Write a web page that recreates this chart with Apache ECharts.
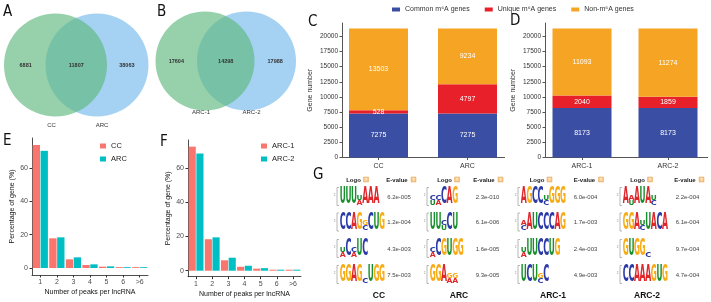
<!DOCTYPE html>
<html>
<head>
<meta charset="utf-8">
<script src="https://cdn.jsdelivr.net/npm/echarts@6/dist/echarts.min.js"></script>
<style>
  html, body { margin: 0; padding: 0; background: #fff; }
  #chart { width: 711px; height: 302px; }
</style>
</head>
<body>
<div id="chart"></div>
<script>
// ---- A / B : venn counts ----
const vennA = [6881, 11807, 38063];
const vennANames = ['CC', 'ARC'];
const vennB = [17604, 14298, 17988];
const vennBNames = ['ARC-1', 'ARC-2'];

// ---- C / D : stacked gene counts ----
const stackNames = ['Common m⁶A genes', 'Unique m⁶A genes', 'Non-m⁶A genes'];
const catC = ['CC', 'ARC'];
const commonC = [7275, 7275];
const uniqueC = [528, 4797];
const nonC = [13503, 9234];
const catD = ['ARC-1', 'ARC-2'];
const commonD = [8173, 8173];
const uniqueD = [2040, 1859];
const nonD = [11093, 11274];
const geneTicks = [0, 2500, 5000, 7500, 10000, 12500, 15000, 17500, 20000];

// ---- E / F : peaks per lncRNA (%) ----
const peakCats = ['1', '2', '3', '4', '5', '6', '>6'];
const pctCC = [73.8, 17.8, 5.2, 1.8, 0.8, 0.5, 0.5];
const pctARC = [70.3, 18.4, 6.4, 2.2, 1.0, 0.5, 0.5];
const pctARC1 = [72.5, 18.4, 6.1, 2.3, 1.2, 0.6, 0.6];
const pctARC2 = [68.5, 19.5, 7.6, 2.9, 1.5, 0.6, 0.6];
const pctTicks = [0, 20, 40, 60];

// ---- G : motifs ([..] = low-information column, letters stacked top->bottom) ----
const motifGroups = ['CC', 'ARC', 'ARC-1', 'ARC-2'];
const motifs = [
  ['UUU[UA]AAA', 'CCAG[GC]CUG', '[UA]C[CA]UC', 'GGAG[C]UGG'],
  ['[CU][CA]CAG', 'UU[CU]CU', '[CA]CGUGG', 'GGA[GA][GA]'],
  ['AGCC[UC]GGG', '[AC]AUCCCAG', '[UA]UUCCUG', 'UCU[GC]C'],
  ['A[AU]AUA[UC]', 'GGA[UC]UACA', 'GUGG[C]', 'CCAAAGUG']
];
const evalues = [
  ['6.2e-005', '1.2e-004', '4.3e-003', '7.5e-003'],
  ['2.3e-010', '6.1e-006', '1.6e-005', '9.3e-005'],
  ['6.0e-004', '1.7e-003', '2.4e-003', '4.9e-003'],
  ['2.2e-004', '6.1e-004', '9.7e-004', '4.7e-004']
];

const FONT = "'Liberation Sans', Arial, sans-serif";
const PANEL_FONT = "'Liberation Sans Narrow', 'DejaVu Sans Condensed', sans-serif";
const BLUE = '#3a4ea4', RED = '#e8202a', ORANGE = '#f5a423';
const SALMON = '#f8766d', TEAL = '#00bfc4';

const graphics = [];
function txt(x, y, s, opt) {
  graphics.push({
    type: 'text', x: x, y: y, silent: true,
    style: Object.assign({
      text: s, fill: '#333', fontSize: 7, fontFamily: FONT,
      textAlign: 'center', textVerticalAlign: 'middle'
    }, opt || {})
  });
}

// panel letters
[['A', 3, 5], ['B', 157, 4.5], ['C', 308, 15], ['D', 510, 14],
 ['E', 3, 134], ['F', 160, 135], ['G', 313, 168]].forEach(p => {
  txt(p[1], p[2], p[0], { fontSize: 15, fontFamily: PANEL_FONT, fill: '#111',
    textAlign: 'left', textVerticalAlign: 'top' });
});

// venn diagrams
function venn(cx1, cx2, cy, r, counts, names, nameY) {
  graphics.push({ type: 'circle', silent: true, shape: { cx: cx2, cy: cy, r: r },
    style: { fill: 'rgba(110,180,235,0.62)' } });
  graphics.push({ type: 'circle', silent: true, shape: { cx: cx1, cy: cy, r: r },
    style: { fill: 'rgba(95,185,128,0.66)' } });
  const pos = [cx1 - r * 0.58, (cx1 + cx2) / 2, cx2 + r * 0.58];
  counts.forEach((c, i) => txt(pos[i], cy, String(c), { fontSize: 5.5, fontWeight: 'bold', fill: '#333' }));
  txt(cx1 - 4, nameY, names[0], { fontSize: 6, fill: '#333' });
  txt(cx2 + 5, nameY, names[1], { fontSize: 6, fill: '#333' });
}
venn(55.5, 97, 65, 51.5, vennA, vennANames, 125);
venn(205, 246.5, 61, 49.5, vennB, vennBNames, 112);

// x-axis base lines for C and D (category axes are shifted to place the bars)
graphics.push({ type: 'line', silent: true, shape: { x1: 342, y1: 157.5, x2: 505, y2: 157.5 },
  style: { stroke: '#555', lineWidth: 1 } });
graphics.push({ type: 'line', silent: true, shape: { x1: 545, y1: 157.5, x2: 708, y2: 157.5 },
  style: { stroke: '#555', lineWidth: 1 } });

// ---- G : motif logos table ----
const LW = 5.6, LH = 17;
const logoX = [340, 430, 521, 623];
const rowY = [197, 222.5, 249, 275];
const letterColor = { A: '#e0262b', C: '#2b3aa6', G: '#f7ab14', U: '#178f2c' };
const letterAdv = { A: 9.29, C: 8.8, G: 9.85, U: 9.74 };

function parseMotif(s) {
  const cols = [];
  for (let i = 0; i < s.length; i++) {
    if (s[i] === '[') {
      const j = s.indexOf(']', i);
      cols.push({ small: true, letters: s.slice(i + 1, j).split('') });
      i = j;
    } else {
      cols.push({ small: false, letters: [s[i]] });
    }
  }
  return cols;
}

function drawLogo(x0, base, motif) {
  // little bits-axis bracket
  graphics.push({ type: 'polyline', silent: true,
    shape: { points: [[x0 - 1, base - LH - 1], [x0 - 3, base - LH - 1], [x0 - 3, base], [x0 - 1, base]] },
    style: { stroke: '#888', lineWidth: 0.6, fill: null } });
  txt(x0 - 5.5, base - LH * 0.6, '2', { fontSize: 3, fill: '#888' });
  parseMotif(motif).forEach((col, i) => {
    const cx = x0 + (i + 0.5) * LW;
    let y = base;
    col.letters.slice().reverse().forEach(ch => {
      const h = col.small ? LH * 0.3 : LH;
      graphics.push({
        type: 'text', silent: true, x: cx, y: y - h / 2,
        scaleX: (LW - 0.2) / (0.9 * letterAdv[ch]), scaleY: h / 8.75,
        style: { text: ch, fill: letterColor[ch], fontSize: 12, fontWeight: 'bold',
          fontFamily: "'DejaVu Sans', sans-serif", textAlign: 'center', textVerticalAlign: 'middle' }
      });
      y -= h;
    });
  });
}

function helpIcon(x, y) {
  graphics.push({ type: 'rect', silent: true, shape: { x: x - 2.5, y: y - 2.5, width: 5, height: 5 },
    style: { fill: '#f8c98a', stroke: '#e3a35a', lineWidth: 0.5 } });
  txt(x, y, '?', { fontSize: 4, fill: '#fff', fontWeight: 'bold' });
}

const headLogoX = [353.5, 444.5, 537, 637.5];
const headEvalX = [397, 484, 584.5, 685];
const evalX = [399, 487.5, 585.5, 687.5];
const footX = [379, 459, 553, 647];
motifGroups.forEach((g, gi) => {
  txt(headLogoX[gi], 180, 'Logo', { fontSize: 6, fontWeight: 'bold', fill: '#222' });
  helpIcon(headLogoX[gi] + 12.5, 179.5);
  txt(headEvalX[gi], 180, 'E-value', { fontSize: 6, fontWeight: 'bold', fill: '#222' });
  helpIcon(headEvalX[gi] + 16.5, 179.5);
  motifs[gi].forEach((m, ri) => {
    drawLogo(logoX[gi], rowY[ri] + 8.5, m);
    txt(evalX[gi], rowY[ri], evalues[gi][ri], { fontSize: 6, fill: '#444' });
  });
  txt(footX[gi], 296, g, { fontSize: 8.5, fontWeight: 'bold', fill: '#111' });
});

// ---- axes helpers ----
function geneY(gridIndex, offset) {
  return {
    type: 'value', gridIndex: gridIndex, min: 0, max: 22200, offset: offset,
    name: 'Gene number', nameLocation: 'middle', nameRotate: 90, nameGap: 28,
    nameTextStyle: { fontSize: 7, color: '#333', fontFamily: FONT },
    axisLine: { show: true, lineStyle: { color: '#555', width: 1 } },
    axisTick: { show: true, length: 2.5, customValues: geneTicks, lineStyle: { color: '#555' } },
    axisLabel: { fontSize: 6.5, color: '#333', margin: 4, fontFamily: FONT, customValues: geneTicks,
      formatter: v => String(v) },
    splitLine: { show: false }
  };
}
function geneX(gridIndex, cats) {
  return {
    type: 'category', gridIndex: gridIndex, data: cats,
    axisLine: { show: false },
    axisTick: { show: true, alignWithLabel: true, length: 2.5, lineStyle: { color: '#555' } },
    axisLabel: { fontSize: 7, color: '#333', margin: 5, fontFamily: FONT }
  };
}
function pctY(gridIndex, min, max, gap) {
  return {
    type: 'value', gridIndex: gridIndex, min: min, max: max,
    name: 'Percentage of gene (%)', nameLocation: 'middle', nameRotate: 90, nameGap: gap,
    nameTextStyle: { fontSize: 7, color: '#111', fontFamily: FONT },
    axisLine: { show: true, lineStyle: { color: '#222', width: 0.8 } },
    axisTick: { show: true, length: 2.5, customValues: pctTicks, lineStyle: { color: '#333' } },
    axisLabel: { fontSize: 7, color: '#4d4d4d', margin: 4, fontFamily: FONT, customValues: pctTicks },
    splitLine: { show: false }
  };
}
function pctX(gridIndex) {
  return {
    type: 'category', gridIndex: gridIndex, data: peakCats,
    name: 'Number of peaks per lncRNA', nameLocation: 'middle', nameGap: 14,
    nameTextStyle: { fontSize: 7, color: '#111', fontFamily: FONT },
    axisLine: { show: true, onZero: false, lineStyle: { color: '#222', width: 0.8 } },
    axisTick: { show: true, alignWithLabel: true, length: 2.5, lineStyle: { color: '#333' } },
    axisLabel: { fontSize: 7, color: '#4d4d4d', margin: 4, fontFamily: FONT }
  };
}

function stackSeries(idx, name, data, color) {
  return {
    type: 'bar', name: name, xAxisIndex: idx, yAxisIndex: idx, stack: 's' + idx,
    data: data, barWidth: 59, itemStyle: { color: color },
    label: { show: true, position: 'inside', color: '#fff', fontSize: 7, fontFamily: FONT }
  };
}
function pctSeries(idx, name, data, color) {
  return {
    type: 'bar', name: name, xAxisIndex: idx, yAxisIndex: idx, data: data,
    barGap: '8%', barCategoryGap: '8%', itemStyle: { color: color }
  };
}

const option = {
  animation: false,
  backgroundColor: '#fff',
  textStyle: { fontFamily: FONT },
  grid: [
    { left: 334, right: 199, top: 23, bottom: 144.5 },     // C
    { left: 539, right: 0, top: 23, bottom: 144.5 },       // D
    { left: 32, right: 563, top: 138, bottom: 27 },        // E
    { left: 188, right: 410, top: 140, bottom: 25.3 }      // F
  ],
  legend: [
    { data: stackNames, left: 392, top: 6, padding: 0, itemWidth: 8, itemHeight: 4, itemGap: 15,
      icon: 'rect', selectedMode: false, textStyle: { fontSize: 7, color: '#333', fontFamily: FONT } },
    { data: ['CC', 'ARC'], left: 100, top: 142, orient: 'vertical', padding: 0, itemWidth: 6, itemHeight: 5,
      itemGap: 5, icon: 'rect', selectedMode: false, textStyle: { fontSize: 7.5, color: '#222', fontFamily: FONT } },
    { data: ['ARC-1', 'ARC-2'], left: 261, top: 142, orient: 'vertical', padding: 0, itemWidth: 6, itemHeight: 5,
      itemGap: 5, icon: 'rect', selectedMode: false, textStyle: { fontSize: 7.5, color: '#222', fontFamily: FONT } }
  ],
  xAxis: [geneX(0, catC), geneX(1, catD), pctX(2), pctX(3)],
  yAxis: [geneY(0, -8), geneY(1, -6), pctY(2, -4.2, 78, 16), pctY(3, -3.5, 76.4, 16)],
  series: [
    stackSeries(0, stackNames[0], commonC, BLUE),
    stackSeries(0, stackNames[1], uniqueC, RED),
    stackSeries(0, stackNames[2], nonC, ORANGE),
    stackSeries(1, stackNames[0], commonD, BLUE),
    stackSeries(1, stackNames[1], uniqueD, RED),
    stackSeries(1, stackNames[2], nonD, ORANGE),
    pctSeries(2, 'CC', pctCC, SALMON),
    pctSeries(2, 'ARC', pctARC, TEAL),
    pctSeries(3, 'ARC-1', pctARC1, SALMON),
    pctSeries(3, 'ARC-2', pctARC2, TEAL)
  ],
  graphic: graphics
};

const chart = echarts.init(document.getElementById('chart'));
chart.setOption(option);
</script>
</body>
</html>
